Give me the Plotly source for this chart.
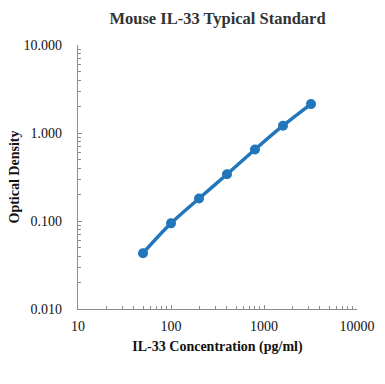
import plotly.graph_objects as go

concentration = [50, 100, 200, 400, 800, 1600, 3200]
optical_density = [0.043, 0.094, 0.180, 0.340, 0.650, 1.210, 2.130]

x_tick_vals = [10, 100, 1000, 10000]
x_tick_text = ["10", "100", "1000", "10000"]
y_tick_vals = [0.01, 0.1, 1, 10]
y_tick_text = ["0.010", "0.100", "1.000", "10.000"]
x_minor_vals = [m * 10 ** k for k in (1, 2, 3) for m in range(2, 10)]
y_minor_vals = [m * 10 ** k for k in (-2, -1, 0) for m in range(2, 10)]

font_family = "Liberation Serif, Times New Roman, serif"

fig = go.Figure()
fig.add_trace(go.Scatter(
    x=concentration, y=optical_density,
    mode="lines+markers",
    line=dict(color="#2176BC", width=3.5, shape="spline"),
    marker=dict(color="#2176BC", size=10),
    showlegend=False,
))

def axis_common(minor_vals):
    return dict(
        showline=True, linecolor="#8c8c8c", linewidth=1.2,
        showgrid=False, zeroline=False, automargin=False,
        ticks="inside", ticklen=4, tickcolor="#8c8c8c",
        tickfont=dict(family=font_family, size=14, color="#111"),
        minor=dict(tickvals=minor_vals, ticks="inside", ticklen=3,
                   tickcolor="#8c8c8c", showgrid=False),
    )

fig.update_layout(
    width=385, height=384,
    margin=dict(l=78, r=28, t=45, b=75),
    paper_bgcolor="white", plot_bgcolor="white",
    title=dict(text="<b>Mouse IL-33 Typical Standard</b>",
               x=(78 + 357) / 2 / 385, xanchor="center", y=1 - 18 / 384, yanchor="middle",
               font=dict(family=font_family, size=16.5, color="#333")),
    xaxis=dict(type="log", range=[1, 4], tickvals=x_tick_vals, ticktext=x_tick_text,
               ticklabelstandoff=4,
               title=dict(text="<b>IL-33 Concentration (pg/ml)</b>", standoff=8,
                          font=dict(family=font_family, size=14, color="#111")),
               **axis_common(x_minor_vals)),
    yaxis=dict(type="log", range=[-2, 1], tickvals=y_tick_vals, ticktext=y_tick_text,
               ticklabelstandoff=12,
               title=dict(text="<b>Optical Density</b>", standoff=0,
                          font=dict(family=font_family, size=14, color="#111")),
               **axis_common(y_minor_vals)),
)

fig.write_html("out.html", config={"displayModeBar": False},
               post_script="document.body.style.margin='0';document.body.style.padding='0';")
